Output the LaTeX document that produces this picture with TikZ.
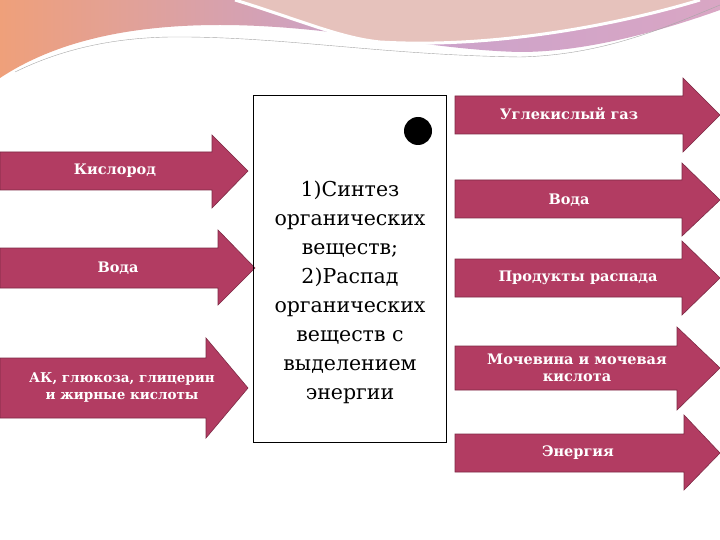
\documentclass[tikz,border=0pt]{standalone}
\usepackage{fontspec}
\setmainfont{DejaVu Serif}
\begin{document}
\begin{tikzpicture}[x=1pt,y=-1pt,
  arr/.style={fill=arrowc,draw=arrowc!70!black,line width=0.6pt},
  lbl/.style={text=white,font=\bfseries\fontsize{14.5}{17}\selectfont,align=center},
  ]
\definecolor{arrowc}{HTML}{B23C62}
\definecolor{bl}{HTML}{EFA07A}
\definecolor{bm}{HTML}{C9A2CC}
\definecolor{br}{HTML}{D9A6C4}
\definecolor{pe}{HTML}{E6C2BC}
\useasboundingbox (0,0) rectangle (720,540);
\fill[white] (0,0) rectangle (720,540);
% banner
\shade[left color=bl, right color=br, middle color=bm]
 (0,0) -- (720,0) -- (720,10) .. controls (650,35) and (580,52) .. (520,52)
 .. controls (430,50) and (330,25) .. (220,25) .. controls (120,25) and (50,45) .. (0,78) -- cycle;
\fill[pe] (235,0) .. controls (300,20) and (340,38) .. (380,42)
 .. controls (480,48) and (600,30) .. (700,0) -- cycle;
\draw[white,line width=3pt] (235,0) .. controls (300,20) and (340,38) .. (380,42)
 .. controls (480,48) and (600,30) .. (700,0);
\draw[gray!70,line width=0.4pt] (15,72) .. controls (60,50) and (110,38) .. (170,37)
 .. controls (280,36) and (380,55) .. (520,57) .. controls (600,55) and (660,30) .. (720,5);
% left arrows
\fill[arr] (0,152) -- (212,152) -- (212,135) -- (248,171) -- (212,208) -- (212,190) -- (0,190) -- cycle;
\node[lbl] (kisl) at (115,171) {Кислород};
\fill[arr] (0,248) -- (218,248) -- (218,230) -- (255,268) -- (218,305) -- (218,288) -- (0,288) -- cycle;
\node[lbl] (voda1) at (118,268) {Вода};
\fill[arr] (0,358) -- (206,358) -- (206,338) -- (248,388) -- (206,438) -- (206,418) -- (0,418) -- cycle;
\node[lbl,font=\bfseries\fontsize{13.5}{17}\selectfont] (ak) at (122,387) {АК, глюкоза, глицерин\\и жирные кислоты};
% box
\node[draw=black,line width=1.5pt,minimum width=193pt,minimum height=347pt,inner sep=0] (box) at (350,269) {};
\node[align=center,font=\fontsize{20.5}{29}\selectfont] (txt) at (350,292) {1)Синтез\\органических\\веществ;\\2)Распад\\органических\\веществ с\\выделением\\энергии};
\fill[black] (418,131) circle (14);
% right arrows
\draw[arr] (455,96) -- (683,96) -- (683,78) -- (720,115) -- (683,152) -- (683,134) -- (455,134) -- cycle;
\node[lbl] (co2) at (569,114) {Углекислый газ};
\draw[arr] (455,180) -- (682,180) -- (682,163) -- (720,200) -- (682,236) -- (682,218) -- (455,218) -- cycle;
\node[lbl] (voda2) at (569,200) {Вода};
\draw[arr] (455,259) -- (682,259) -- (682,241) -- (720,278) -- (682,315) -- (682,297) -- (455,297) -- cycle;
\node[lbl] (prod) at (578,278) {Продукты распада};
\draw[arr] (455,346) -- (677,346) -- (677,327) -- (720,368) -- (677,410) -- (677,390) -- (455,390) -- cycle;
\node[lbl] (moch) at (577,368) {Мочевина и мочевая\\кислота};
\draw[arr] (455,434) -- (684,434) -- (684,415) -- (720,453) -- (684,490) -- (684,472) -- (455,472) -- cycle;
\node[lbl] (en) at (578,453) {Энергия};
\end{tikzpicture}
\end{document}
